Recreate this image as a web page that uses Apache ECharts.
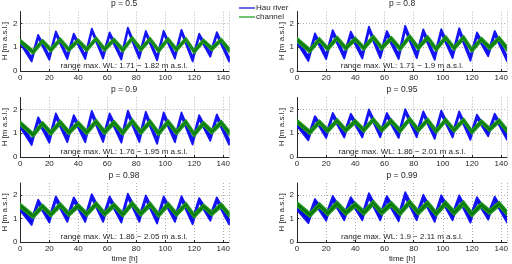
<!DOCTYPE html>
<html>
<head>
<meta charset="utf-8">
<script src="https://cdn.jsdelivr.net/npm/echarts@6/dist/echarts.min.js"></script>
<style>
html, body { margin: 0; padding: 0; background: #fff; }
#main { width: 512px; height: 264px; }
</style>
</head>
<body>
<div id="main"></div>
<script>
// tidal vertices [h]: start, then trough/peak pairs, end
var blueT  = [0, 7.8, 12.3, 20.0, 24.5, 32.4, 36.9, 44.8, 49.3, 57.1, 61.6, 69.7, 74.2, 82.1, 86.6, 94.4, 98.9, 106.7, 111.2, 118.9, 123.4, 131.1, 135.6, 144];
var greenT = [0, 8.8, 15.3, 21.0, 27.5, 33.4, 39.9, 45.8, 52.3, 58.1, 64.6, 70.7, 77.2, 83.1, 89.6, 95.4, 101.9, 107.7, 114.2, 119.9, 126.4, 132.1, 138.6, 144];

var pLabels = ['p = 0.5', 'p = 0.8', 'p = 0.9', 'p = 0.95', 'p = 0.98', 'p = 0.99'];
var rangeLabels = [
  'range max. WL: 1.71 \u2212 1.82 m a.s.l.',
  'range max. WL: 1.71 \u2212 1.9 m a.s.l.',
  'range max. WL: 1.76 \u2212 1.95 m a.s.l.',
  'range max. WL: 1.86 \u2212 2.01 m a.s.l.',
  'range max. WL: 1.86 \u2212 2.05 m a.s.l.',
  'range max. WL: 1.9 \u2212 2.11 m a.s.l.'
];
var xTicks = [0, 20, 40, 60, 80, 100, 120, 140];
var yTicks = [0, 1, 2];

// Hau river (upper / lower edge of ensemble)
var blueHi05 = [1.30, 0.57,1.52, 0.64,1.66, 0.67,1.57, 0.67,1.78, 0.69,1.62, 0.65,1.82, 0.69,1.68, 0.62,1.69, 0.69,1.73, 0.57,1.57, 0.77,1.63, 0.58];
var blueLo05 = [1.15, 0.40,1.40, 0.47,1.54, 0.50,1.45, 0.50,1.66, 0.52,1.50, 0.48,1.71, 0.52,1.56, 0.45,1.57, 0.52,1.61, 0.40,1.45, 0.60,1.51, 0.40];
var blueHi08 = [1.36, 0.62,1.58, 0.70,1.72, 0.72,1.65, 0.72,1.86, 0.74,1.68, 0.70,1.90, 0.74,1.75, 0.67,1.76, 0.74,1.80, 0.63,1.62, 0.82,1.68, 0.62];
var blueLo08 = [1.18, 0.42,1.42, 0.50,1.55, 0.52,1.48, 0.52,1.69, 0.54,1.51, 0.50,1.72, 0.54,1.58, 0.47,1.59, 0.54,1.63, 0.43,1.46, 0.62,1.52, 0.42];
var blueHi09 = [1.46, 0.72,1.67, 0.82,1.83, 0.84,1.76, 0.84,1.94, 0.85,1.83, 0.82,1.95, 0.85,1.90, 0.77,1.87, 0.84,1.87, 0.74,1.76, 0.90,1.79, 0.74];
var blueLo09 = [1.24, 0.50,1.50, 0.60,1.66, 0.62,1.59, 0.62,1.77, 0.63,1.66, 0.60,1.78, 0.63,1.73, 0.55,1.70, 0.62,1.70, 0.52,1.59, 0.68,1.62, 0.52];
var blueHi095 = [1.52, 0.90,1.72, 1.00,1.85, 1.02,1.82, 1.02,2.00, 1.03,1.85, 1.00,2.01, 1.03,1.92, 0.96,1.95, 1.02,1.92, 0.92,1.78, 1.07,1.82, 0.92];
var blueLo095 = [1.30, 0.70,1.57, 0.80,1.70, 0.82,1.67, 0.82,1.85, 0.83,1.70, 0.80,1.86, 0.83,1.77, 0.76,1.80, 0.82,1.77, 0.72,1.63, 0.87,1.67, 0.72];
var blueHi098 = [1.58, 0.96,1.79, 1.06,1.93, 1.09,1.89, 1.09,2.03, 1.09,1.93, 1.06,2.05, 1.09,1.97, 1.02,1.93, 1.09,1.94, 0.99,1.86, 1.14,1.89, 0.98];
var blueLo098 = [1.32, 0.72,1.62, 0.82,1.76, 0.85,1.72, 0.85,1.86, 0.85,1.76, 0.82,1.88, 0.85,1.80, 0.78,1.76, 0.85,1.77, 0.75,1.69, 0.90,1.72, 0.75];
var blueHi099 = [1.62, 1.07,1.82, 1.17,1.95, 1.19,1.90, 1.19,2.07, 1.19,1.95, 1.15,2.11, 1.19,2.00, 1.12,1.98, 1.19,1.98, 1.09,1.90, 1.22,1.92, 1.08];
var blueLo099 = [1.36, 0.80,1.62, 0.90,1.75, 0.92,1.70, 0.92,1.87, 0.92,1.75, 0.88,1.90, 0.92,1.80, 0.85,1.78, 0.92,1.78, 0.82,1.70, 0.95,1.72, 0.82];

// channel (upper / lower edge of ensemble)
var greenHi05 = [1.32, 0.88,1.32, 0.96,1.38, 0.98,1.34, 0.98,1.42, 0.99,1.37, 0.96,1.44, 0.99,1.40, 0.94,1.40, 0.98,1.40, 0.90,1.33, 1.01,1.37, 0.98];
var greenLo05 = [1.18, 0.72,1.19, 0.80,1.25, 0.82,1.21, 0.82,1.29, 0.83,1.24, 0.80,1.31, 0.83,1.27, 0.78,1.27, 0.82,1.27, 0.74,1.20, 0.85,1.24, 0.80];
var greenHi08 = [1.40, 0.94,1.40, 1.02,1.46, 1.04,1.42, 1.04,1.50, 1.05,1.45, 1.02,1.52, 1.05,1.48, 1.00,1.48, 1.04,1.48, 0.96,1.41, 1.07,1.45, 1.04];
var greenLo08 = [1.22, 0.77,1.24, 0.85,1.30, 0.87,1.26, 0.87,1.34, 0.88,1.29, 0.85,1.36, 0.88,1.32, 0.83,1.32, 0.87,1.32, 0.79,1.25, 0.90,1.29, 0.84];
var greenHi09 = [1.50, 1.02,1.48, 1.10,1.54, 1.12,1.50, 1.12,1.58, 1.13,1.53, 1.10,1.60, 1.13,1.56, 1.08,1.56, 1.12,1.56, 1.04,1.49, 1.15,1.53, 1.12];
var greenLo09 = [1.32, 0.84,1.31, 0.92,1.37, 0.94,1.33, 0.94,1.41, 0.95,1.36, 0.92,1.43, 0.95,1.39, 0.90,1.39, 0.94,1.39, 0.86,1.32, 0.97,1.36, 0.92];
var greenHi095 = [1.57, 1.12,1.55, 1.19,1.61, 1.21,1.57, 1.21,1.65, 1.22,1.60, 1.19,1.67, 1.22,1.63, 1.17,1.63, 1.21,1.63, 1.14,1.56, 1.24,1.60, 1.20];
var greenLo095 = [1.40, 0.95,1.39, 1.02,1.45, 1.04,1.41, 1.04,1.49, 1.05,1.44, 1.02,1.51, 1.05,1.47, 1.00,1.47, 1.04,1.47, 0.97,1.40, 1.07,1.44, 1.02];
var greenHi098 = [1.63, 1.18,1.60, 1.25,1.66, 1.27,1.62, 1.27,1.70, 1.28,1.65, 1.25,1.72, 1.28,1.68, 1.23,1.68, 1.27,1.68, 1.20,1.61, 1.30,1.65, 1.26];
var greenLo098 = [1.44, 1.00,1.42, 1.07,1.48, 1.09,1.44, 1.09,1.52, 1.10,1.47, 1.07,1.54, 1.10,1.50, 1.05,1.50, 1.09,1.50, 1.02,1.43, 1.12,1.47, 1.07];
var greenHi099 = [1.70, 1.25,1.66, 1.32,1.72, 1.34,1.68, 1.34,1.76, 1.35,1.71, 1.32,1.78, 1.35,1.74, 1.30,1.74, 1.34,1.74, 1.27,1.67, 1.37,1.71, 1.33];
var greenLo099 = [1.50, 1.05,1.46, 1.12,1.52, 1.14,1.48, 1.14,1.56, 1.15,1.51, 1.12,1.58, 1.15,1.54, 1.10,1.54, 1.14,1.54, 1.07,1.47, 1.17,1.51, 1.12];

var blueHi = [blueHi05, blueHi08, blueHi09, blueHi095, blueHi098, blueHi099];
var blueLo = [blueLo05, blueLo08, blueLo09, blueLo095, blueLo098, blueLo099];
var greenHi = [greenHi05, greenHi08, greenHi09, greenHi095, greenHi098, greenHi099];
var greenLo = [greenLo05, greenLo08, greenLo09, greenLo095, greenLo098, greenLo099];

var FONT = 'Liberation Sans, Arial, sans-serif';
var TXT = '#262626';
var colLeft = [19, 297];
var rowTop = [11.5, 97.5, 183];
var gw = 210, gh = 59.5;

var chart = echarts.init(document.getElementById('main'));

// ensemble band as a filled polygon between upper and lower edge
function band(name, i, t, hi, lo, fill, edge, lw, z) {
  var pts = [];
  for (var k = 0; k < t.length; k++) pts.push([t[k], hi[k]]);
  for (var k = t.length - 1; k >= 0; k--) pts.push([t[k], lo[k]]);
  return {
    type: 'custom', name: name, xAxisIndex: i, yAxisIndex: i, z: z, clip: true,
    itemStyle: { color: fill },
    data: [[t[0], hi[0]]],
    renderItem: function (params, api) {
      if (params.dataIndex !== 0) return;
      return {
        type: 'polygon',
        shape: { points: pts.map(function (p) { return api.coord(p); }) },
        style: { fill: fill, stroke: edge, lineWidth: lw, lineJoin: 'round' }
      };
    }
  };
}

var grids = [], xAxes = [], yAxes = [], series = [], graphics = [];
for (var i = 0; i < 6; i++) {
  var c = i % 2, r = Math.floor(i / 2);
  var L = colLeft[c], T = rowTop[r];
  grids.push({ left: L, top: T, width: gw, height: gh });
  xAxes.push({
    type: 'value', gridIndex: i, min: 0, max: 144, interval: 20,
    name: r === 2 ? 'time [h]' : '', nameLocation: 'middle', nameGap: 13,
    nameTextStyle: { fontSize: 8, color: TXT, fontFamily: FONT },
    axisLine: { lineStyle: { color: '#262626', width: 1 } },
    axisTick: { inside: true, length: 2, lineStyle: { color: '#262626' } },
    axisLabel: { fontSize: 8, color: TXT, fontFamily: FONT, margin: 3, showMaxLabel: false,
      formatter: function (v) { return xTicks.indexOf(v) >= 0 ? String(v) : ''; } },
    splitLine: { show: true, lineStyle: { type: [1, 2], color: '#b0b0b0', width: 1 } }
  });
  yAxes.push({
    type: 'value', gridIndex: i, min: 0, max: 2.5, interval: 1,
    name: 'H [m a.s.l.]', nameLocation: 'middle', nameGap: 10, nameRotate: 90,
    nameTextStyle: { fontSize: 8, color: TXT, fontFamily: FONT },
    axisLine: { show: true, lineStyle: { color: '#262626', width: 1 } },
    axisTick: { show: true, inside: true, length: 2, lineStyle: { color: '#262626' } },
    axisLabel: { fontSize: 8, color: TXT, fontFamily: FONT, margin: 3, showMaxLabel: false,
      formatter: function (v) { return yTicks.indexOf(v) >= 0 ? String(v) : ''; } },
    splitLine: { show: true, showMaxLine: false, lineStyle: { type: [1, 2], color: '#b0b0b0', width: 1 } }
  });
  series.push(band('Hau river', i, blueT, blueHi[i], blueLo[i], '#0000e0', '#1414f5', 1.8, 2));
  series.push(band('channel', i, greenT, greenHi[i], greenLo[i], '#067306', '#1f951f', 1.6, 3));
  graphics.push({ type: 'text', x: L + gw / 2, y: T - 7.5,
    style: { text: pLabels[i], fontSize: 8.5, fontFamily: FONT, fill: TXT, textAlign: 'center', textVerticalAlign: 'middle' } });
  graphics.push({ type: 'text', x: L + gw / 2, y: T + gh - 5.5, z: 10,
    style: { text: rangeLabels[i], fontSize: 8, fontFamily: FONT, fill: TXT, textAlign: 'center', textVerticalAlign: 'middle' } });
}

chart.setOption({
  animation: false,
  backgroundColor: '#fff',
  legend: {
    orient: 'vertical', left: 234, top: -1, itemGap: 1, itemWidth: 16, itemHeight: 1.5,
    icon: 'rect',
    textStyle: { fontSize: 8, color: TXT, fontFamily: FONT, padding: [0, 0, 0, -4] },
    data: [
      { name: 'Hau river', itemStyle: { color: '#3b3bd6' } },
      { name: 'channel', itemStyle: { color: '#43b043' } }
    ]
  },
  grid: grids,
  xAxis: xAxes,
  yAxis: yAxes,
  series: series,
  graphic: graphics
});
</script>
</body>
</html>
